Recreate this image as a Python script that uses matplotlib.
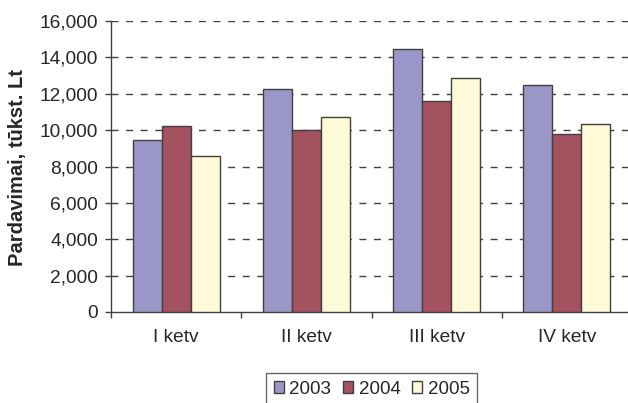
import numpy as np
import matplotlib

matplotlib.use("Agg")
import matplotlib.pyplot as plt
from matplotlib.ticker import FuncFormatter

QUARTERS = ["I ketv", "II ketv", "III ketv", "IV ketv"]
YEARS = ["2003", "2004", "2005"]
SALES_2003 = [9450, 12240, 14470, 12480]
SALES_2004 = [10220, 10010, 11610, 9760]
SALES_2005 = [8570, 10710, 12880, 10310]
COLORS = ["#9B96C8", "#A45160", "#FFFAD8"]
EDGE = "#404040"
TEXT = "#262626"

plt.rcParams["font.family"] = ["Liberation Sans", "DejaVu Sans"]

fig = plt.figure(figsize=(6.28, 4.03), dpi=100)
ax = fig.add_axes([111 / 628, 1 - 312 / 403, (632 - 111) / 628, (312 - 21) / 403])

x = np.arange(len(QUARTERS))
width = 0.223
for i, (vals, year, color) in enumerate(zip([SALES_2003, SALES_2004, SALES_2005], YEARS, COLORS)):
    ax.bar(x + (i - 1) * width, vals, width, color=color, edgecolor=EDGE,
           linewidth=1.0, label=year, zorder=3)

ax.set_xlim(-0.5, len(QUARTERS) - 0.5)
ax.set_ylim(0, 16000)
ax.set_yticks(np.arange(0, 16001, 2000))
ax.yaxis.set_major_formatter(FuncFormatter(lambda v, _: f"{int(v):,}"))
ax.set_xticks(x)
ax.set_xticklabels(QUARTERS)
ax.set_xticks(np.arange(-0.5, len(QUARTERS), 1.0), minor=True)

for yv in np.arange(2000, 16001, 2000):
    ax.axhline(yv, color=EDGE, linewidth=1.0, linestyle=(0, (5, 5.5)), zorder=1)

for side in ["top", "right"]:
    ax.spines[side].set_visible(False)
for side in ["left", "bottom"]:
    ax.spines[side].set_color(EDGE)
    ax.spines[side].set_linewidth(1.0)

ax.tick_params(axis="y", length=4, width=1, color=EDGE, pad=5.5, labelsize=13.8, labelcolor=TEXT)
ax.tick_params(axis="x", which="major", length=0, pad=12.5, labelsize=13.8, labelcolor=TEXT)
ax.tick_params(axis="x", which="minor", length=4, width=1, color=EDGE)

fig.text(18 / 628, 1 - 168 / 403, "Pardavimai, tūkst. Lt", rotation=90, ha="center",
         va="center", fontsize=14.5, fontweight="bold", color=TEXT)

leg = fig.legend(loc="upper left", bbox_to_anchor=(266 / 628, 1 - 373 / 403), ncol=3,
                 frameon=True, fancybox=False, edgecolor=EDGE, fontsize=13.5,
                 handlelength=0.55, handleheight=0.55, handletextpad=0.3,
                 columnspacing=0.6, borderpad=0.4, borderaxespad=0)
leg.get_frame().set_linewidth(1.0)
for t in leg.get_texts():
    t.set_color(TEXT)

fig.savefig("out.png", dpi=100)
